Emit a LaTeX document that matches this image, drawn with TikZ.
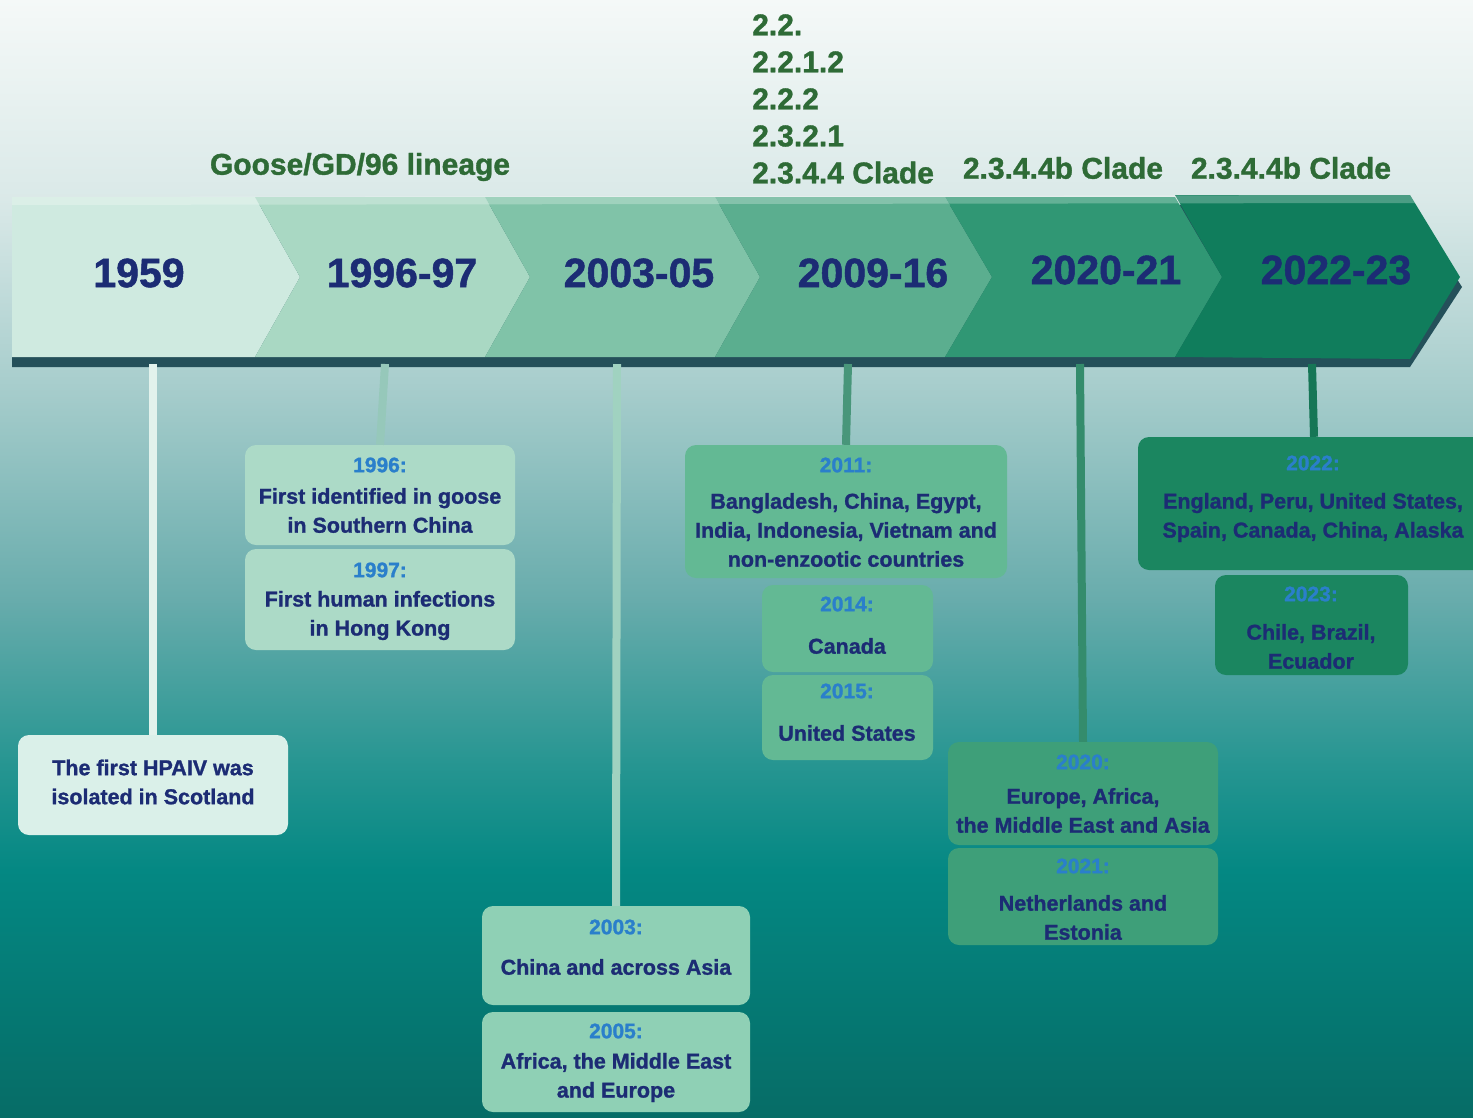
\documentclass[tikz,border=0pt]{standalone}
\usepackage{fontspec}
\setmainfont{Liberation Sans}[BoldFeatures={FakeBold=1.2}]
\definecolor{navy}{HTML}{1C2C74}
\definecolor{yblue}{HTML}{2A7FCB}
\definecolor{cgreen}{HTML}{2E6B36}
\definecolor{segA}{HTML}{CFEAE0}
\definecolor{segB}{HTML}{A9D8C3}
\definecolor{segC}{HTML}{80C3A8}
\definecolor{segD}{HTML}{5BAE8F}
\definecolor{segE}{HTML}{309774}
\definecolor{segF}{HTML}{107D5C}
\definecolor{boxA}{HTML}{DAF0E9}
\definecolor{boxB}{HTML}{ACDAC7}
\definecolor{boxC}{HTML}{8FD0B5}
\definecolor{boxD}{HTML}{63B994}
\definecolor{boxE}{HTML}{3E9F79}
\definecolor{boxF}{HTML}{1B8660}
\definecolor{shadow}{HTML}{24505A}
\tikzset{
  evbox/.style={rounded corners=11pt, inner sep=0pt, minimum width=#1},
  yeartxt/.style={text=yblue, font=\bfseries\fontsize{21}{26}\selectfont, inner sep=0pt},
  bodytxt/.style={text=navy, font=\bfseries\fontsize{21.5}{29}\selectfont, align=center, inner sep=0pt},
  bigyear/.style={text=navy, font=\bfseries\fontsize{41}{49}\selectfont, inner sep=0pt},
  cladetxt/.style={text=cgreen, font=\bfseries\fontsize{30}{37}\selectfont, inner sep=0pt},
  stem/.style={line width=8pt}
}
\begin{document}
\begin{tikzpicture}[x=1pt,y=-1pt]
\useasboundingbox (0,0) rectangle (1473,1117);
\clip (0,0) rectangle (1473,1117);
% background
\shade[top color={rgb,255:red,245;green,249;blue,248}, bottom color={rgb,255:red,218;green,233;blue,232}] (0,-1) rectangle (1473,200);
\shade[top color={rgb,255:red,218;green,233;blue,232}, bottom color={rgb,255:red,163;green,203;blue,202}] (0,199) rectangle (1473,400);
\shade[top color={rgb,255:red,163;green,203;blue,202}, bottom color={rgb,255:red,104;green,172;blue,172}] (0,399) rectangle (1473,600);
\shade[top color={rgb,255:red,104;green,172;blue,172}, bottom color={rgb,255:red,40;green,150;blue,146}] (0,599) rectangle (1473,760);
\shade[top color={rgb,255:red,40;green,150;blue,146}, bottom color={rgb,255:red,4;green,136;blue,131}] (0,759) rectangle (1473,870);
\shade[top color={rgb,255:red,4;green,136;blue,131}, bottom color={rgb,255:red,6;green,108;blue,102}] (0,869) rectangle (1473,1118);
% band shadow
\fill[shadow] (12,205) -- (1410,205) -- (1462,287) -- (1410,367) -- (12,367) -- cycle;
% chevrons
\fill[segA] (12,197) -- (255,197) -- (300,277) -- (255,357) -- (12,357) -- cycle;
\fill[segB] (255,197) -- (485,197) -- (530,277) -- (485,357) -- (255,357) -- (300,277) -- cycle;
\fill[segC] (485,197) -- (715,197) -- (760,277) -- (715,357) -- (485,357) -- (530,277) -- cycle;
\fill[segD] (715,197) -- (945,197) -- (992,277) -- (945,357) -- (715,357) -- (760,277) -- cycle;
\fill[segE] (945,197) -- (1175,197) -- (1222,277) -- (1175,357) -- (945,357) -- (992,277) -- cycle;
\fill[segF] (1175,195) -- (1410,195) -- (1460,277) -- (1410,359) -- (1175,357) -- (1222,277) -- cycle;
\fill[white,opacity=0.25] (12,197) -- (1410,195) -- (1415,203) -- (12,205) -- cycle;
% year labels on band
\node[bigyear] (n1959) at (139,273) {1959};
\node[bigyear] (n1996) at (402,273) {1996-97};
\node[bigyear] (n2003) at (639,273) {2003-05};
\node[bigyear] (n2009) at (873,273) {2009-16};
\node[bigyear] (n2020) at (1106,270) {2020-21};
\node[bigyear] (n2022) at (1336,270) {2022-23};
% clade labels
\node[cladetxt] (goose) at (360,167) {Goose/GD/96 lineage};
\node[cladetxt, align=left, anchor=west] (clades) at (752,99) {2.2.\\2.2.1.2\\2.2.2\\2.3.2.1\\2.3.4.4 Clade};
\node[cladetxt] (cladeb1) at (1063,168) {2.3.4.4b Clade};
\node[cladetxt] (cladeb2) at (1291,168) {2.3.4.4b Clade};
% stem start coordinates
\coordinate (s1) at (153,364);
\coordinate (s2) at (385,364);
\coordinate (s3) at (617,364);
\coordinate (s4) at (848,364);
\coordinate (s5) at (1080,364);
\coordinate (s6) at (1312,364);
% boxes
\node[evbox=270pt, minimum height=100pt, fill=boxA] (b1) at (153,785) {};
\node[evbox=270pt, minimum height=100pt, fill=boxB] (b2a) at (380,495) {};
\node[evbox=270pt, minimum height=101pt, fill=boxB] (b2b) at (380,599.5) {};
\node[evbox=268pt, minimum height=99pt, fill=boxC] (b3a) at (616,955.5) {};
\node[evbox=268pt, minimum height=100pt, fill=boxC] (b3b) at (616,1062) {};
\node[evbox=322pt, minimum height=133pt, fill=boxD] (b4a) at (846,511.5) {};
\node[evbox=171pt, minimum height=87pt, fill=boxD] (b4b) at (847.5,628.5) {};
\node[evbox=171pt, minimum height=85pt, fill=boxD] (b4c) at (847.5,717.5) {};
\node[evbox=270pt, minimum height=103pt, fill=boxE] (b5a) at (1083,793.5) {};
\node[evbox=270pt, minimum height=97pt, fill=boxE] (b5b) at (1083,896.5) {};
\node[evbox=352pt, minimum height=133pt, fill=boxF] (b6a) at (1314,503.5) {};
\node[evbox=193pt, minimum height=100pt, fill=boxF] (b6b) at (1311.5,625) {};
% stems
\draw[stem, color={rgb,255:red,226;green,242;blue,236}] (s1) -- (b1.north);
\draw[stem, color={rgb,255:red,150;green,200;blue,186}] (s2) -- (b2a.north);
\draw[stem, color={rgb,255:red,160;green,210;blue,192}] (s3) -- (b3a.north);
\draw[stem, color={rgb,255:red,72;green,150;blue,122}] (s4) -- (b4a.north);
\draw[stem, color={rgb,255:red,52;green,140;blue,108}] (s5) -- (b5a.north);
\draw[stem, color={rgb,255:red,22;green,118;blue,86}] (s6) -- (b6a.north);
% texts
\node[bodytxt] (t1) at (153,782) {The first HPAIV was\\isolated in Scotland};
\node[yeartxt] (y2a) at (380,465) {1996:};
\node[bodytxt] (t2a) at (380,510.5) {First identified in goose\\in Southern China};
\node[yeartxt] (y2b) at (380,570) {1997:};
\node[bodytxt] (t2b) at (380,615.5) {First human infections\\in Hong Kong};
\node[yeartxt] (y3a) at (616,927) {2003:};
\node[bodytxt] (t3a) at (616,967) {China and across Asia};
\node[yeartxt] (y3b) at (616,1031) {2005:};
\node[bodytxt] (t3b) at (616,1077.5) {Africa, the Middle East\\and Europe};
\node[yeartxt] (y4a) at (846,465) {2011:};
\node[bodytxt] (t4a) at (846,530) {Bangladesh, China, Egypt,\\India, Indonesia, Vietnam and\\non-enzootic countries};
\node[yeartxt] (y4b) at (847,604) {2014:};
\node[bodytxt] (t4b) at (847,646) {Canada};
\node[yeartxt] (y4c) at (847,691) {2015:};
\node[bodytxt] (t4c) at (847,733) {United States};
\node[yeartxt] (y5a) at (1083,762) {2020:};
\node[bodytxt] (t5a) at (1083,810.5) {Europe, Africa,\\the Middle East and Asia};
\node[yeartxt] (y5b) at (1083,866) {2021:};
\node[bodytxt] (t5b) at (1083,917.5) {Netherlands and\\Estonia};
\node[yeartxt] (y6a) at (1313,463) {2022:};
\node[bodytxt] (t6a) at (1313,517.5) {England, Peru, United States,\\Spain, Canada, China, Alaska};
\node[yeartxt] (y6b) at (1311,594) {2023:};
\node[bodytxt] (t6b) at (1311,646.5) {Chile, Brazil,\\Ecuador};
\end{tikzpicture}
\end{document}
